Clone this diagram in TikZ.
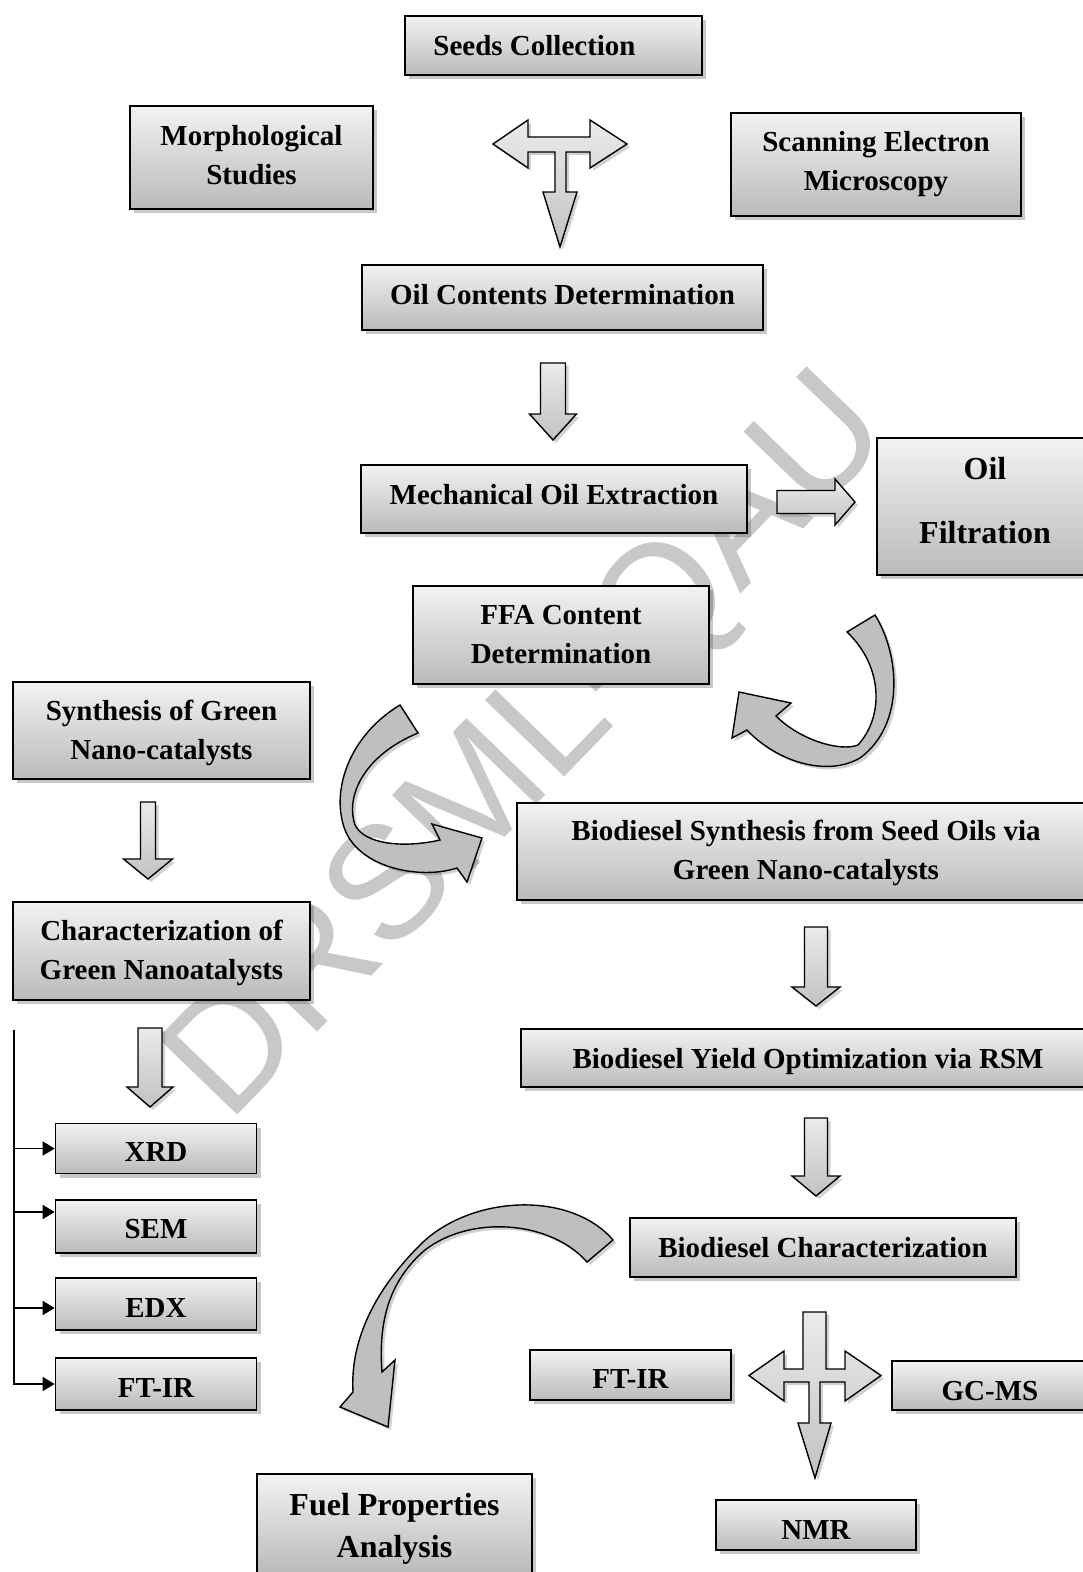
\documentclass[tikz,border=0pt]{standalone}
\usepackage{fontspec}
\setmainfont{Liberation Serif}
\newfontfamily\wmfont{Liberation Sans}
\usetikzlibrary{shadows,arrows.meta}
\definecolor{wmgray}{RGB}{200,200,200}
\newcommand{\DownBlock}[6]{%
  \path[blockarrow] ({#1-#5},#2) -- ({#1+#5},#2) -- ({#1+#5},#3) -- ({#1+#6},#3)
    -- (#1,#4) -- ({#1-#6},#3) -- ({#1-#5},#3) -- cycle;}
\newcommand{\DnStrut}[1]{\rule{0pt}{#1}}
\newcommand{\UpStrut}[1]{\rule[-#1]{0pt}{#1}}
\tikzset{
  flowbox/.style={draw=black, line width=1.6pt, top color=black!5, bottom color=black!27,
    inner sep=0pt, align=center, font=\bfseries\fontsize{29}{39}\selectfont,
    drop shadow={shadow xshift=4pt, shadow yshift=-4pt, opacity=0.3, fill=black!70}},
  bigbox/.style={flowbox, font=\bfseries\fontsize{32}{42}\selectfont},
  blockarrow/.style={draw=black, line width=1.4pt, line join=miter, top color=black!8, bottom color=black!24,
    drop shadow={shadow xshift=3pt, shadow yshift=-3pt, opacity=0.25, fill=black!70}},
  curvearrow/.style={draw=black, line width=1.4pt, line join=miter, fill=black!25,
    drop shadow={shadow xshift=3pt, shadow yshift=-3pt, opacity=0.25, fill=black!70}},
  brk/.style={line width=1.6pt},
  brkarrow/.style={brk, -{Triangle[length=12pt,width=14pt]}},
  wmark/.style={text=wmgray, inner sep=0pt, font=\wmfont\fontsize{160}{160}\selectfont}
}
\begin{document}
\begin{tikzpicture}[x=1pt,y=-1pt]
\useasboundingbox (0,0) rectangle (1083,1572);
\fill[white] (0,0) rectangle (1083,1572);

% watermark
\node[wmark, rotate=46, anchor=base west] (wm) at (228,1125) {DRSML-QAU};

% straight block arrows
\path[blockarrow] (528,137) -- (528,120) -- (493,144) -- (528,168) -- (528,152) -- (555,152)
  -- (555,192) -- (543,192) -- (560,247) -- (577,192) -- (566,192) -- (566,152) -- (590,152)
  -- (590,168) -- (627,144) -- (590,120) -- (590,137) -- cycle;
\DownBlock{553}{363}{414}{440}{12.5}{23.5}
\path[blockarrow] (777,490.5) -- (835,490.5) -- (835,479) -- (855,502) -- (835,525) -- (835,513.5)
  -- (777,513.5) -- cycle;
\DownBlock{148}{802}{859}{879}{7.5}{24.5}
\DownBlock{150}{1028}{1087}{1107}{12}{23}
\DownBlock{816}{927}{987}{1006}{11.5}{24}
\DownBlock{816}{1118}{1176}{1196}{11.5}{24}
\path[blockarrow] (803,1312) -- (803,1369) -- (784,1369) -- (784,1351) -- (749,1375.5) -- (784,1401)
  -- (784,1382) -- (809,1382) -- (809,1423) -- (798,1423) -- (815,1478) -- (831,1423) -- (820,1423)
  -- (820,1382) -- (845,1382) -- (845,1401) -- (881,1375.5) -- (845,1351) -- (845,1369) -- (826,1369)
  -- (826,1312) -- cycle;

% curved arrows
\path[curvearrow] (875,615) .. controls (900,655) and (905,725) .. (860,758)
  .. controls (825,778) and (775,760) .. (747,730) -- (732,738) -- (739,692) -- (791,703) -- (776,716)
  .. controls (800,740) and (840,752) .. (858,745) .. controls (885,715) and (882,665) .. (847,632) -- cycle;
\path[curvearrow] (400,705) .. controls (350,735) and (330,790) .. (345,830)
  .. controls (360,868) and (420,880) .. (457,868) -- (467,882) -- (482,838) -- (432,824) -- (440,840)
  .. controls (405,848) and (365,845) .. (355,825) .. controls (345,795) and (365,755) .. (418,733) -- cycle;
\path[curvearrow] (613,1240) .. controls (570,1190) and (470,1195) .. (420,1245)
  .. controls (375,1290) and (350,1340) .. (353,1392) -- (340,1407) -- (388,1427) -- (395,1360) -- (382,1372)
  .. controls (378,1320) and (390,1280) .. (425,1250) .. controls (470,1215) and (550,1220) .. (587,1262) -- cycle;

% boxes
\node[flowbox, minimum width=297, minimum height=59] (seeds) at (553.5,45.5) {Seeds Collection\hspace{38pt}};
\node[flowbox, minimum width=243, minimum height=103] (morph) at (251.5,157.5) {Morphological\\Studies\UpStrut{6pt}};
\node[flowbox, minimum width=290, minimum height=103] (semsc) at (876,164.5) {Scanning Electron\\Microscopy};
\node[flowbox, minimum width=401, minimum height=65] (oilc) at (562.5,297.5) {Oil Contents Determination\UpStrut{6pt}};
\node[flowbox, minimum width=386, minimum height=68] (mech) at (554,499) {Mechanical Oil Extraction\UpStrut{10pt}};
\node[bigbox, minimum width=216, minimum height=137] (filt) at (985,506.5) {Oil\\[22pt]Filtration\UpStrut{12pt}};
\node[flowbox, minimum width=296, minimum height=98] (ffa) at (561,635) {FFA Content\\Determination};
\node[flowbox, minimum width=297, minimum height=97] (synth) at (161.5,730.5) {\DnStrut{26pt}Synthesis of Green\\Nano-catalysts};
\node[flowbox, minimum width=578, minimum height=97] (biosyn) at (806,851.5) {\DnStrut{24pt}Biodiesel Synthesis from Seed Oils via\\Green Nano-catalysts};
\node[flowbox, minimum width=297, minimum height=98] (charac) at (161.5,951) {\DnStrut{24pt}Characterization of\\Green Nanoatalysts};
\node[flowbox, minimum width=574, minimum height=58] (yield) at (808,1058) {\DnStrut{28pt}Biodiesel Yield Optimization via RSM};
\node[flowbox, minimum width=201, minimum height=50] (xrd) at (156,1148.5) {\DnStrut{27pt}XRD};
\node[flowbox, minimum width=201, minimum height=53] (semb) at (156,1226.5) {\DnStrut{25pt}SEM};
\node[flowbox, minimum width=201, minimum height=52] (edx) at (156,1304) {\DnStrut{27pt}EDX};
\node[flowbox, minimum width=201, minimum height=52] (ftirl) at (156,1384) {\DnStrut{27pt}FT-IR};
\node[flowbox, minimum width=386, minimum height=59] (biochar) at (823,1247.5) {Biodiesel Characterization};
\node[flowbox, minimum width=201, minimum height=50] (ftirr) at (630.5,1375) {\DnStrut{27pt}FT-IR};
\node[flowbox, minimum width=196, minimum height=49] (gcms) at (990,1385.5) {\DnStrut{29.5pt}GC-MS};
\node[flowbox, minimum width=200, minimum height=50] (nmr) at (816,1525) {\DnStrut{29pt}NMR};
\node[bigbox, minimum width=275, minimum height=100] (fuel) at (394.5,1524) {\DnStrut{32pt}Fuel Properties\\Analysis};

% bracket
\coordinate (spinetop) at (14,1030);
\coordinate (semin) at ([yshift=14.5pt]semb.west);
\coordinate (edxin) at ([yshift=-4pt]edx.west);
\draw[brkarrow] (spinetop) |- (ftirl.west);
\draw[brkarrow] (spinetop |- xrd.west) -- (xrd.west);
\draw[brkarrow] (spinetop |- semin) -- (semin);
\draw[brkarrow] (spinetop |- edxin) -- (edxin);
\end{tikzpicture}
\end{document}
